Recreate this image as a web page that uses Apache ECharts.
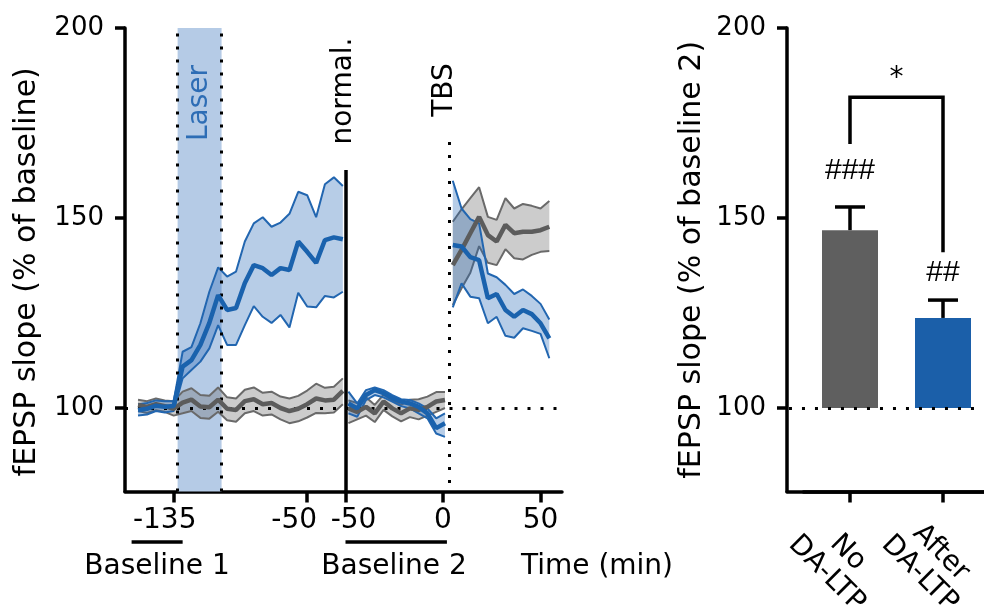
<!DOCTYPE html>
<html><head><meta charset="utf-8">
<script src="https://cdn.jsdelivr.net/npm/echarts@6.0.0/dist/echarts.min.js"></script>
<style>html,body{margin:0;padding:0;background:#fff}#c{width:984px;height:611px}</style>
</head><body><div id="c"></div>
<script>
// ---------- data ----------
const yTicks = [100, 150, 200];
const xTicksA = [-135, -50];
const xTicksB = [-50, 0, 50];

// Section A (baseline 1 + laser)
const timesA = [-157.7, -152.0, -146.3, -140.7, -135.0, -129.3, -123.7, -118.0, -112.3, -106.7, -101.0, -95.3, -89.7, -84.0, -78.3, -72.7, -67.0, -61.3, -55.7, -50.0, -44.3, -38.7, -33.0, -27.3];
const blueMeanA  = [99.4, 99.8, 100.6, 100.3, 100.5, 110.9, 112.6, 116.6, 122.4, 129.7, 125.8, 126.3, 132.9, 137.6, 136.8, 135.0, 136.8, 136.3, 143.8, 141.1, 138.2, 144.2, 144.9, 144.4];
const blueUpperA = [101.0, 101.3, 102.0, 101.8, 101.8, 114.8, 116.0, 122.3, 130.6, 137.0, 134.6, 135.9, 143.8, 148.6, 150.2, 147.7, 148.8, 151.1, 156.9, 156.0, 150.2, 158.9, 160.7, 158.4];
const blueLowerA = [98.0, 98.3, 99.2, 98.8, 99.2, 107.8, 110.0, 112.2, 115.7, 121.8, 116.6, 116.6, 121.8, 126.8, 124.0, 122.4, 124.5, 121.2, 130.3, 126.7, 126.5, 129.5, 129.1, 130.6];
const grayMeanA  = [100.8, 100.3, 101.0, 100.5, 99.8, 101.4, 102.2, 100.4, 100.2, 102.2, 99.8, 99.5, 101.8, 102.3, 101.0, 101.3, 100.0, 99.2, 99.8, 101.0, 102.5, 102.0, 102.2, 104.5];
const grayUpperA = [102.2, 101.8, 102.5, 102.0, 101.8, 104.3, 105.2, 103.4, 103.2, 105.4, 102.8, 102.5, 104.8, 105.4, 104.0, 104.3, 103.0, 102.5, 103.2, 104.6, 106.4, 105.3, 105.6, 107.8];
const grayLowerA = [99.2, 98.7, 99.4, 99.0, 98.0, 98.6, 99.2, 97.4, 97.2, 99.0, 96.8, 96.4, 98.6, 99.2, 98.0, 98.3, 97.0, 96.0, 96.5, 97.5, 98.7, 98.6, 98.8, 101.0];

// Section B, baseline 2 (normalized)
const timesB = [-48.5, -44, -39.5, -35, -30.5, -26, -21.5, -17, -12.5, -8, -3.5, 1];
const blueMeanB  = [101.2, 99.9, 103.4, 104.7, 103.9, 102.6, 101.7, 101.2, 100.3, 98.6, 94.7, 96.0];
const blueUpperB = [104.3, 101.2, 104.7, 105.4, 104.7, 103.4, 102.3, 102.1, 101.2, 99.9, 97.3, 98.6];
const blueLowerB = [98.6, 97.7, 102.1, 103.4, 102.8, 101.7, 100.5, 99.9, 98.6, 97.3, 93.3, 92.4];
const grayMeanB  = [99.9, 99.0, 100.3, 98.6, 101.7, 99.9, 98.6, 99.9, 99.5, 100.3, 101.7, 102.1];
const grayUpperB = [102.0, 101.3, 102.8, 100.8, 103.5, 102.0, 100.8, 102.2, 102.3, 103.0, 104.2, 104.2];
const grayLowerB = [96.0, 97.0, 98.0, 96.3, 99.5, 97.8, 96.5, 97.6, 97.0, 98.0, 99.0, 100.0];

// Section C, after TBS
const timesC = [5, 9.5, 14, 18.5, 23, 27.5, 32, 36.5, 41, 45.5, 50, 54.5];
const blueMeanC  = [142.9, 142.5, 139.7, 138.9, 128.9, 130.0, 125.8, 124.0, 125.8, 124.7, 122.3, 118.3];
const blueUpperC = [159.8, 152.5, 149.7, 148.6, 135.4, 134.4, 132.4, 130.0, 131.2, 129.5, 127.4, 123.3];
const blueLowerC = [126.5, 132.8, 129.3, 128.9, 122.3, 124.0, 119.0, 118.5, 121.0, 120.3, 119.5, 113.1];
const grayMeanC  = [137.6, 141.6, 146.0, 150.3, 145.5, 143.8, 148.2, 146.0, 146.4, 146.4, 146.8, 147.7];
const grayUpperC = [149.0, 152.3, 155.2, 158.1, 150.3, 149.5, 155.2, 152.5, 153.7, 153.2, 152.5, 154.5];
const grayLowerC = [127.1, 131.5, 135.6, 142.6, 138.2, 137.6, 141.8, 139.4, 139.1, 140.3, 141.1, 141.3];

// Bar panel
const barCategories = ['No\nDA-LTP', 'After\nDA-LTP'];
const barMeans = [146.8, 123.7];
const barSems = [6.1, 4.7];
const barSig = ['###', '##'];

const laserWindow = [-132.5, -104.5];
const tbsTime = 3;
const baseline1Range = [-161.8, -129.3];
const baseline2Range = [-50, 2];

// ---------- chart ----------
const FONT = 'DejaVu Sans';
const Y_MIN = 78, Y_MAX = 200;
const blue = {edge:'#2266b0', fill:'rgba(30,100,180,0.32)', mean:'#1a62ad'};
const gray = {edge:'#6a6a6a', fill:'rgba(110,110,110,0.35)', mean:'#5c5c5c'};
const barColors = ['#5f5f5f', '#1b5fa9'];

function band(key, xi, t, lo, hi, mean, pal, z) {
  const common = {type:'line', xAxisIndex:xi, yAxisIndex:xi, symbol:'none', showSymbol:false,
    silent:true, animation:false, z:z};
  return [
    {type:'custom', name:key+'-band', xAxisIndex:xi, yAxisIndex:xi, silent:true, z:z,
      data:t.map((x,i)=>[x, lo[i], hi[i]]), encode:{x:0, y:[1,2]},
      renderItem:function(params, api){
        if (params.dataIndex !== 0) return null;
        const pts = [];
        for (let i = 0; i < t.length; i++) pts.push(api.coord([t[i], hi[i]]));
        for (let i = t.length - 1; i >= 0; i--) pts.push(api.coord([t[i], lo[i]]));
        return {type:'polygon', shape:{points:pts}, style:{fill:pal.fill, stroke:null}};
      }},
    Object.assign({}, common, {name:key+'-lo', data:t.map((x,i)=>[x, lo[i]]),
      lineStyle:{color:pal.edge, width:2}}),
    Object.assign({}, common, {name:key+'-hi', data:t.map((x,i)=>[x, hi[i]]),
      lineStyle:{color:pal.edge, width:2}}),
    Object.assign({}, common, {name:key, data:t.map((x,i)=>[x, mean[i]]),
      lineStyle:{color:pal.mean, width:4.5}, z:z+2})
  ];
}

const axisLineStyle = {show:true, onZero:false, lineStyle:{color:'#000', width:3.5}};
const tickStyle = (vals, len) => ({show:true, customValues:vals, length:len, lineStyle:{color:'#000', width:3.5}});

function yAxisDef(gi, show, name, gap, pad) {
  return {type:'value', gridIndex:gi, min:Y_MIN, max:Y_MAX, show:show,
    axisLine:axisLineStyle, axisTick:tickStyle(yTicks, 10),
    axisLabel:{customValues:yTicks, fontSize:26, fontFamily:FONT, color:'#000', margin:21},
    splitLine:{show:false},
    name:name, nameLocation:'middle', nameRotate:90, nameGap:gap,
    nameTextStyle:{fontSize:30, fontFamily:FONT, color:'#000', padding:pad}};
}

const dotted = {color:'#000', width:3, type:[3, 10]};
const gridBase = {top:28, height:463.6, containLabel:false, outerBoundsMode:'none'};

const option = {
  animation:false,
  backgroundColor:'#fff',
  grid:[
    Object.assign({left:125, width:220.5}, gridBase),
    Object.assign({left:345.5, width:216.5}, gridBase),
    Object.assign({left:803.5, width:186}, gridBase),
    Object.assign({left:787, width:197}, gridBase)
  ],
  xAxis:[
    {type:'value', gridIndex:0, min:-166, max:-25.6, axisLine:axisLineStyle, axisTick:tickStyle(xTicksA, 11),
      axisLabel:{customValues:xTicksA, margin:15, color:'#000',
        formatter: v => (v === -135 ? '{a|' : '{b|') + v + '}',
        rich:{a:{fontSize:28, fontFamily:FONT, color:'#000', padding:[0,18,0,0]},
              b:{fontSize:28, fontFamily:FONT, color:'#000', padding:[0,26,0,0]}}},
      splitLine:{show:false}},
    {type:'value', gridIndex:1, min:-50, max:61, axisLine:axisLineStyle, axisTick:tickStyle(xTicksB, 11),
      axisLabel:{customValues:xTicksB, margin:15, color:'#000',
        formatter: v => (v === -50 ? '{c|' : '{d|') + v + '}',
        rich:{c:{fontSize:28, fontFamily:FONT, color:'#000', padding:[0,0,0,16]},
              d:{fontSize:28, fontFamily:FONT, color:'#000'}}},
      splitLine:{show:false}},
    {type:'category', gridIndex:2, data:barCategories, boundaryGap:true,
      axisLine:axisLineStyle,
      axisTick:{show:true, alignWithLabel:true, interval:0, length:11, lineStyle:{color:'#000', width:3.5}},
      axisLabel:{interval:0, hideOverlap:false, margin:42, color:'#000', fontSize:28, fontFamily:FONT,
        rotate:-45, align:'center', verticalAlign:'top', lineHeight:30, padding:[0,0,0,24]},
      splitLine:{show:false}},
    {type:'value', gridIndex:3, min:0, max:1, axisLine:axisLineStyle, axisTick:{show:false},
      axisLabel:{show:false}, splitLine:{show:false}}
  ],
  yAxis:[
    yAxisDef(0, true, 'fEPSP slope (% of baseline)', 83, [0,24,0,0]),
    yAxisDef(1, false, '', 0, 0),
    yAxisDef(2, false, '', 0, 0),
    yAxisDef(3, true, 'fEPSP slope (% of baseline 2)', 80, 0)
  ],
  series:[].concat(
    [{type:'line', xAxisIndex:0, yAxisIndex:0, data:[], z:1, silent:true,
      markArea:{silent:true, itemStyle:{color:'#b5cbe6'}, data:[[{xAxis:laserWindow[0]},{xAxis:laserWindow[1]}]]},
      markLine:{silent:true, symbol:'none', label:{show:false}, lineStyle:dotted,
        data:[{yAxis:100}, {xAxis:laserWindow[0]}, {xAxis:laserWindow[1]}]}},
     {type:'line', xAxisIndex:1, yAxisIndex:1, data:[], z:1, silent:true,
      markLine:{silent:true, symbol:'none', label:{show:false}, lineStyle:dotted,
        data:[{yAxis:100}, [{coord:[tbsTime, 170]}, {coord:[tbsTime, Y_MIN]}]]}},
     {type:'line', xAxisIndex:1, yAxisIndex:1, data:[], z:10, silent:true,
      markLine:{silent:true, symbol:'none', label:{show:false}, lineStyle:{color:'#000', width:3.5, type:'solid'},
        data:[[{coord:[-50, 162.6]}, {coord:[-50, Y_MIN]}]]}},
     {type:'line', xAxisIndex:3, yAxisIndex:3, data:[], z:1, silent:true,
      markLine:{silent:true, symbol:'none', label:{show:false}, lineStyle:dotted,
        data:[[{coord:[0.01, 100]}, {coord:[0.955, 100]}]]}}],
    band('grayA', 0, timesA, grayLowerA, grayUpperA, grayMeanA, gray, 3),
    band('blueA', 0, timesA, blueLowerA, blueUpperA, blueMeanA, blue, 4),
    band('grayB', 1, timesB, grayLowerB, grayUpperB, grayMeanB, gray, 3),
    band('blueB', 1, timesB, blueLowerB, blueUpperB, blueMeanB, blue, 4),
    band('grayC', 1, timesC, grayLowerC, grayUpperC, grayMeanC, gray, 3),
    band('blueC', 1, timesC, blueLowerC, blueUpperC, blueMeanC, blue, 4),
    [{type:'custom', name:'bars', xAxisIndex:2, yAxisIndex:2, silent:true, z:3,
      data: barMeans.map((m,i)=>[i, m, barSems[i]]),
      renderItem: function(params, api) {
        const x = api.value(0), m = api.value(1), s = api.value(2);
        const base = api.coord([x, 100]), top = api.coord([x, m]), err = api.coord([x, m + s]);
        const bw = 56, cap = 30;
        return {type:'group', children:[
          {type:'rect', shape:{x:top[0]-bw/2, y:top[1], width:bw, height:base[1]-top[1]},
            style:{fill:barColors[params.dataIndex]}},
          {type:'line', shape:{x1:top[0], y1:top[1], x2:err[0], y2:err[1]}, style:{stroke:'#000', lineWidth:3.5}},
          {type:'line', shape:{x1:err[0]-cap/2, y1:err[1], x2:err[0]+cap/2, y2:err[1]}, style:{stroke:'#000', lineWidth:3.5}}
        ]};
      }},
     {type:'custom', name:'bracket', xAxisIndex:2, yAxisIndex:2, silent:true, z:3,
      data:[[0, 181.8]],
      renderItem: function(params, api) {
        const p = [api.coord([0, 169.5]), api.coord([0, 181.8]), api.coord([1, 181.8]), api.coord([1, 141])];
        return {type:'polyline', shape:{points:p}, style:{stroke:'#000', lineWidth:3.5, fill:null}};
      }}]
  )
};

const chart = echarts.init(document.getElementById('c'), null, {renderer:'canvas'});
chart.setOption(option);

// annotations derived from the axes
const px = (ai, v) => chart.convertToPixel({xAxisIndex:ai}, v);
const py = (ai, v) => chart.convertToPixel({yAxisIndex:ai}, v);
function txt(x, y, s, opts) {
  opts = opts || {};
  return {type:'text', x:x, y:y, rotation:opts.rot || 0, silent:true, z:20,
    style:{text:s, fill:opts.color || '#000', fontSize:opts.size || 28, fontFamily:opts.family || FONT,
      align:'center', verticalAlign:'middle', textAlign:'center', textVerticalAlign:'middle'}};
}
const underY = 542;
const barSigY = [162.5, 135.5];
const bx0 = px(2, 0), bx1 = px(2, 1);
chart.setOption({graphic:[
  {type:'line', silent:true, shape:{x1:px(0, baseline1Range[0]), y1:underY, x2:px(0, baseline1Range[1]), y2:underY},
    style:{stroke:'#000', lineWidth:3.5}},
  {type:'line', silent:true, shape:{x1:px(1, baseline2Range[0]), y1:underY, x2:px(1, baseline2Range[1]), y2:underY},
    style:{stroke:'#000', lineWidth:3.5}},
  txt((px(0, laserWindow[0]) + px(0, laserWindow[1])) / 2, 103, 'Laser', {rot:Math.PI/2, color:'#2d6db5'}),
  txt(px(1, -50) - 2, 91, 'normal.', {rot:Math.PI/2}),
  txt(px(1, tbsTime) - 4, 90, 'TBS', {rot:Math.PI/2}),
  txt(157, 567, 'Baseline 1'),
  txt(394, 567, 'Baseline 2'),
  txt(597, 567, 'Time (min)'),
  txt((bx0 + bx1) / 2, 79, '*'),
  txt(bx0, py(2, barSigY[0]), barSig[0], {family:'Liberation Sans', size:30}),
  txt(bx1, py(2, barSigY[1]), barSig[1], {family:'Liberation Sans', size:30})
]});
</script>
</body></html>
